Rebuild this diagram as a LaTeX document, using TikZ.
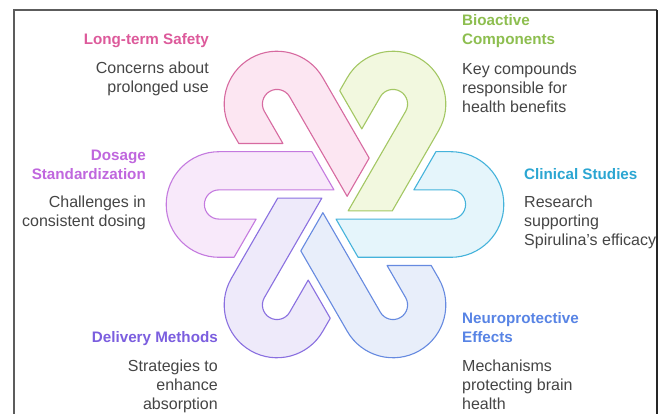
\documentclass[tikz,border=0pt]{standalone}
\usepackage{fontspec}
\setmainfont{Liberation Sans}
\usetikzlibrary{positioning}

\definecolor{textgray}{HTML}{454545}
\definecolor{framegray}{HTML}{5C5C5C}
\definecolor{safetyline}{HTML}{D76AA0}
\definecolor{safetyfill}{HTML}{FCE6F2}
\definecolor{safetytext}{HTML}{DD5A9B}
\definecolor{bioline}{HTML}{A3C763}
\definecolor{biofill}{HTML}{F2F8DF}
\definecolor{biotext}{HTML}{8DBE4F}
\definecolor{clinline}{HTML}{45B3DB}
\definecolor{clinfill}{HTML}{E5F5FB}
\definecolor{clintext}{HTML}{2BA6D2}
\definecolor{neuroline}{HTML}{668AE0}
\definecolor{neurofill}{HTML}{E8EEFA}
\definecolor{neurotext}{HTML}{5884E5}
\definecolor{delivline}{HTML}{8A70E0}
\definecolor{delivfill}{HTML}{EEEAFA}
\definecolor{delivtext}{HTML}{7B5EDF}
\definecolor{doseline}{HTML}{C47ADF}
\definecolor{dosefill}{HTML}{F8E9FA}
\definecolor{dosetext}{HTML}{C067DE}

\tikzset{
	hook/.style={line width=1.1pt, line join=round},
	head/.style={font=\fontsize{15.2}{19}\selectfont\bfseries, inner sep=0pt},
	blurb/.style={font=\fontsize{16}{19}\selectfont, text=textgray, inner sep=0pt},
}

% one hook, arc centre on the negative x axis, arms pointing to the middle
\newcommand{\hookpath}{(-1.04,14.6) -- (-23.09,52.8) -- (-116,52.8)
	arc[start angle=90, end angle=270, radius=52.8] -- (-100.92,-52.8)
	-- (-78.87,-14.6) -- (-116,-14.6)
	arc[start angle=270, end angle=90, radius=14.6] -- cycle}

\begin{document}
\begin{tikzpicture}[x=1pt, y=1pt]
	\def \midx {335}
\def \midy {209.5}
\def \lefttext {209}
\def \righttext {462}

\fill[white] (0,0) rectangle (667,414);
\useasboundingbox (0,0) rectangle (667,414);

%Frame
\draw[framegray, line width=1.5pt] (14,-5) -- (14,404) -- (657,404);
\draw[black!85, line width=1.5pt] (657,404) -- (657,-5);

%Hooks
\begin{scope}[shift={(\midx,\midy)}]
\draw[hook, draw=doseline, fill=dosefill] \hookpath;
\draw[hook, draw=safetyline, fill=safetyfill, rotate=-60] \hookpath;
\draw[hook, draw=bioline, fill=biofill, rotate=-120] \hookpath;
\draw[hook, draw=clinline, fill=clinfill, rotate=180] \hookpath;
\draw[hook, draw=neuroline, fill=neurofill, rotate=120] \hookpath;
\draw[hook, draw=delivline, fill=delivfill, rotate=60] \hookpath;
\end{scope}

%Long-term Safety (base = last line)
\node[head, text=safetytext, anchor=base east] (safety) at (\lefttext,369) {Long-term Safety};
\node[blurb, align=right, anchor=base east] (safetynote) at (\lefttext,321) {Concerns about\\prolonged use};

%Dosage
\node[head, text=dosetext, align=right, anchor=base east] (dose) at (146,234) {Dosage\\Standardization};
\node[blurb, align=right, anchor=base east] (dosenote) at (146,187) {Challenges in\\consistent dosing};

%Delivery
\node[head, text=delivtext, anchor=base east] (deliv) at (218,71) {Delivery Methods};
\node[blurb, align=right, anchor=base east] (delivnote) at (218,4) {Strategies to\\enhance\\absorption};

%Bioactive
\node[head, text=biotext, align=left, anchor=base west] (bio) at (\righttext,369) {Bioactive\\Components};
\node[blurb, align=left, anchor=base west] (bionote) at (\righttext,301) {Key compounds\\responsible for\\health benefits};

%Clinical
\node[head, text=clintext, anchor=base west] (clin) at (524,234) {Clinical Studies};
\node[blurb, align=left, anchor=base west] (clinnote) at (524,168) {Research\\supporting\\Spirulina's efficacy};

%Neuroprotective
\node[head, text=neurotext, align=left, anchor=base west] (neuro) at (\righttext,71) {Neuroprotective\\Effects};
\node[blurb, align=left, anchor=base west] (neuronote) at (\righttext,4) {Mechanisms\\protecting brain\\health};

	\end{tikzpicture}
\end{document}
